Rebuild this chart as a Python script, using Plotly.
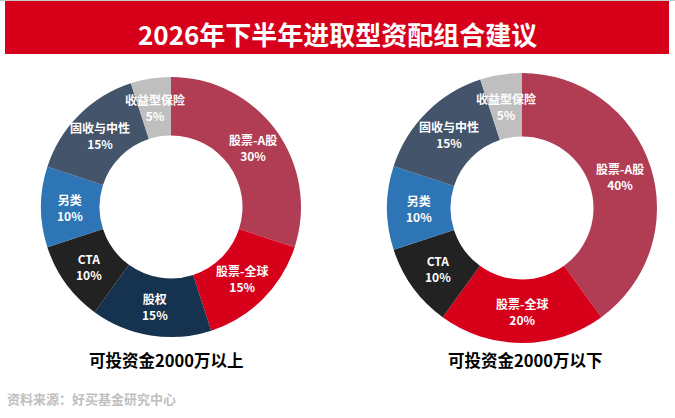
import math
import plotly.graph_objects as go

# data
labels_high = ["股票-A股", "股票-全球", "股权", "CTA", "另类", "固收与中性", "收益型保险"]
values_high = [30, 15, 15, 10, 10, 15, 5]
colors_high = ["#B03D54", "#D7001A", "#15324F", "#222222", "#2E75B6", "#44546A", "#BFBFBF"]

labels_low = ["股票-A股", "股票-全球", "CTA", "另类", "固收与中性", "收益型保险"]
values_low = [40, 20, 10, 10, 15, 5]
colors_low = ["#B03D54", "#D7001A", "#222222", "#2E75B6", "#44546A", "#BFBFBF"]

title = "2026年下半年进取型资配组合建议"
sub_high = "可投资金2000万以上"
sub_low = "可投资金2000万以下"
source = "资料来源：好买基金研究中心"

W, H = 675, 418
FONT = "Noto Sans CJK SC"

# pie placement in pixels: centre x, centre y, outer radius, inner radius
pies = [
    (labels_high, values_high, colors_high, 171, 207, 130, 71.5),
    (labels_low, values_low, colors_low, 522, 208, 135, 71.5),
]

fig = go.Figure()
annotations = []


def note(x, y, text, size, color, xanchor="center"):
    # x, y in pixels from the top-left corner
    return dict(x=x / W, y=1 - y / H, xref="paper", yref="paper", showarrow=False,
                xanchor=xanchor, yanchor="middle", align="center", text=text,
                font=dict(family=FONT, size=size, color=color, weight="bold"))


for labels, values, colors, cx, cy, r, r_in in pies:
    fig.add_trace(go.Pie(
        labels=labels, values=values,
        marker=dict(colors=colors, line=dict(width=0)),
        hole=r_in / r,
        sort=False, direction="clockwise",
        textinfo="none", hoverinfo="label+value",
        showlegend=False,
        domain=dict(x=[(cx - r) / W, (cx + r) / W],
                    y=[1 - (cy + r) / H, 1 - (cy - r) / H]),
    ))
    # labels sit at the middle of the ring, at each slice's mid angle
    total = sum(values)
    start = 0
    r_mid = (r + r_in) / 2
    for lab, v in zip(labels, values):
        theta = 2 * math.pi * (start + v / 2) / total
        start += v
        annotations.append(note(cx + r_mid * math.sin(theta), cy - r_mid * math.cos(theta),
                                f"{lab}<br>{v}%", 12, "white"))

# title and captions
annotations.append(note(337.5, 33, title, 26, "white"))
annotations.append(note(165.5, 360, sub_high, 16.5, "black"))
annotations.append(note(524.5, 360, sub_low, 16.5, "black"))
annotations.append(note(5, 398, source, 13, "#BFBFBF", xanchor="left"))

fig.update_layout(
    width=W, height=H,
    margin=dict(l=0, r=0, t=0, b=0),
    paper_bgcolor="white", plot_bgcolor="white",
    annotations=annotations,
    shapes=[
        dict(type="rect", xref="paper", yref="paper", x0=0, x1=1, y0=1 - 1 / H, y1=1,
             fillcolor="#C8C8C8", line=dict(width=0), layer="below"),
        dict(type="rect", xref="paper", yref="paper", x0=5 / W, x1=669 / W,
             y0=1 - 54 / H, y1=1 - 1 / H,
             fillcolor="#D7001A", line=dict(width=0), layer="below"),
    ],
)

fig.write_html("out.html", config={"displayModeBar": False},
               post_script="document.body.style.margin='0';")
